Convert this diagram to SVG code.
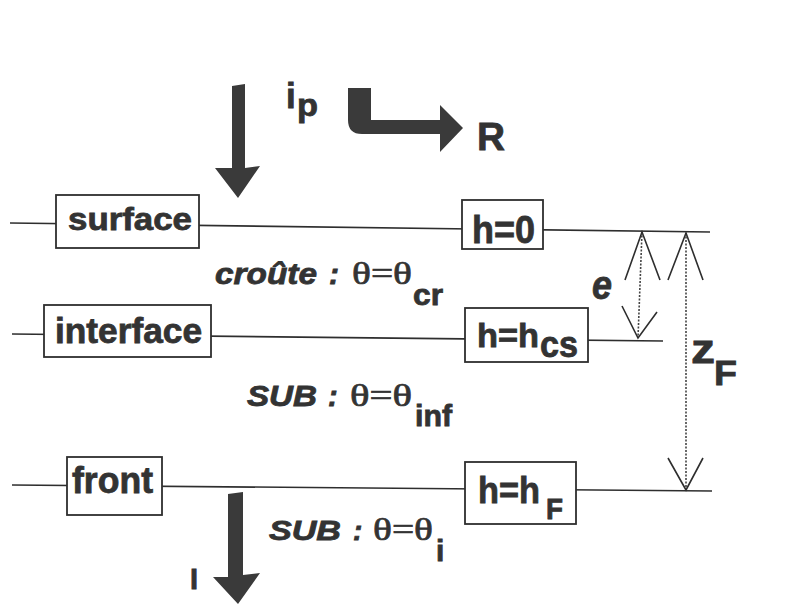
<svg xmlns="http://www.w3.org/2000/svg" width="788" height="604" viewBox="0 0 788 604">
<style>
.ln{stroke:#2e2e2e;stroke-width:1.6;fill:none}
.box{stroke:#2e2e2e;stroke-width:1.8;fill:#fff}
.lbl{font-family:"Liberation Sans",Arial,sans-serif;font-weight:bold;fill:#333;stroke:#333;stroke-width:0.8}
.it{font-family:"Liberation Sans",Arial,sans-serif;font-weight:bold;font-style:italic;fill:#333;stroke:#333;stroke-width:0.8}
.sf{font-family:"Liberation Serif","Times New Roman",serif;fill:#333;stroke:#333;stroke-width:0.7}
.dot{stroke:#444;stroke-width:1.6;stroke-dasharray:2 1.5;fill:none}
.big{fill:#3a3a3a}
</style>
<rect width="788" height="604" fill="#fff"/>
<g id="connectors">
<line class="ln" x1="10" y1="223" x2="710" y2="232"/>
<line class="ln" x1="12" y1="334" x2="663" y2="341"/>
<line class="ln" x1="12" y1="485" x2="712" y2="491"/>
<line class="dot" x1="642" y1="232" x2="638" y2="338"/>
<polyline class="ln" points="625,280 642,232 660,280"/>
<polyline class="ln" points="622,306 638,338 657,312"/>
<line class="dot" x1="686" y1="233" x2="686" y2="490"/>
<polyline class="ln" points="668,280 686,233 703,280"/>
<polyline class="ln" points="668,458 686,490 703,458"/>
</g>
<g id="arrow-ip">
<path class="big" d="M232,86 L245,84 L245,168 L260,166 L238,198 L215,168 L232,168 Z"/>
<text class="lbl" x="286" y="108" font-size="35">i</text>
<text class="lbl" x="297" y="116" font-size="32" textLength="21" lengthAdjust="spacingAndGlyphs">p</text>
</g>
<g id="arrow-R">
<path class="big" d="M348,88 L371,88 L371,120 L440,120 L440,105 L463,128 L440,152 L440,134 L362,134 Q348,134 348,120 Z"/>
<text class="lbl" x="477" y="150" font-size="38" textLength="28" lengthAdjust="spacingAndGlyphs">R</text>
</g>
<g id="surface">
<rect class="box" x="56" y="195" width="143" height="53"/>
<text class="lbl" x="68" y="230" font-size="32" textLength="124" lengthAdjust="spacingAndGlyphs">surface</text>
</g>
<g id="h0">
<rect class="box" x="462" y="200" width="81" height="49"/>
<text class="lbl" x="472" y="243" font-size="38" textLength="63" lengthAdjust="spacingAndGlyphs">h=0</text>
</g>
<g id="interface">
<rect class="box" x="44" y="305" width="167" height="52"/>
<text class="lbl" x="55" y="343" font-size="35" textLength="147" lengthAdjust="spacingAndGlyphs">interface</text>
</g>
<g id="hcs">
<rect class="box" x="465" y="308" width="123" height="54"/>
<text class="lbl" x="477" y="347" font-size="34" textLength="62" lengthAdjust="spacingAndGlyphs">h=h</text>
<text class="lbl" x="540" y="357" font-size="36" textLength="38" lengthAdjust="spacingAndGlyphs">cs</text>
</g>
<g id="front">
<rect class="box" x="67" y="457" width="95" height="58"/>
<text class="lbl" x="72" y="493" font-size="37" textLength="81" lengthAdjust="spacingAndGlyphs">front</text>
</g>
<g id="hF">
<rect class="box" x="465" y="462" width="111" height="62"/>
<text class="lbl" x="478" y="503" font-size="37" textLength="62" lengthAdjust="spacingAndGlyphs">h=h</text>
<text class="lbl" x="546" y="519" font-size="30" textLength="17" lengthAdjust="spacingAndGlyphs">F</text>
</g>
<g id="labels">
<text class="it" x="215" y="284" font-size="30" textLength="102" lengthAdjust="spacingAndGlyphs">croûte</text>
<text class="it" x="329" y="284" font-size="30">:</text>
<text class="sf" x="352" y="284" font-size="31" textLength="60" lengthAdjust="spacingAndGlyphs">θ=θ</text>
<text class="lbl" x="413" y="305" font-size="30" textLength="30" lengthAdjust="spacingAndGlyphs">cr</text>

<text class="it" x="247" y="406" font-size="29" textLength="70" lengthAdjust="spacingAndGlyphs">SUB</text>
<text class="it" x="328" y="406" font-size="29">:</text>
<text class="sf" x="350" y="406" font-size="31" textLength="62" lengthAdjust="spacingAndGlyphs">θ=θ</text>
<text class="lbl" x="415" y="426" font-size="29" textLength="37" lengthAdjust="spacingAndGlyphs">inf</text>

<text class="it" x="269" y="540" font-size="28" textLength="72" lengthAdjust="spacingAndGlyphs">SUB</text>
<text class="it" x="353" y="540" font-size="28">:</text>
<text class="sf" x="373" y="540" font-size="31" textLength="60" lengthAdjust="spacingAndGlyphs">θ=θ</text>
<text class="lbl" x="436" y="561" font-size="30">i</text>

<text class="it" x="592" y="299" font-size="40" textLength="20" lengthAdjust="spacingAndGlyphs">e</text>
<text class="lbl" x="691" y="363" font-size="41" textLength="24" lengthAdjust="spacingAndGlyphs">z</text>
<text class="lbl" x="714" y="385" font-size="35" textLength="23" lengthAdjust="spacingAndGlyphs">F</text>
</g>
<g id="arrow-I">
<path class="big" d="M228,494 L243,492 L243,575 L260,573 L238,604 L213,577 L228,577 Z"/>
<text class="lbl" x="190" y="589" font-size="29">I</text>
</g>
</svg>
